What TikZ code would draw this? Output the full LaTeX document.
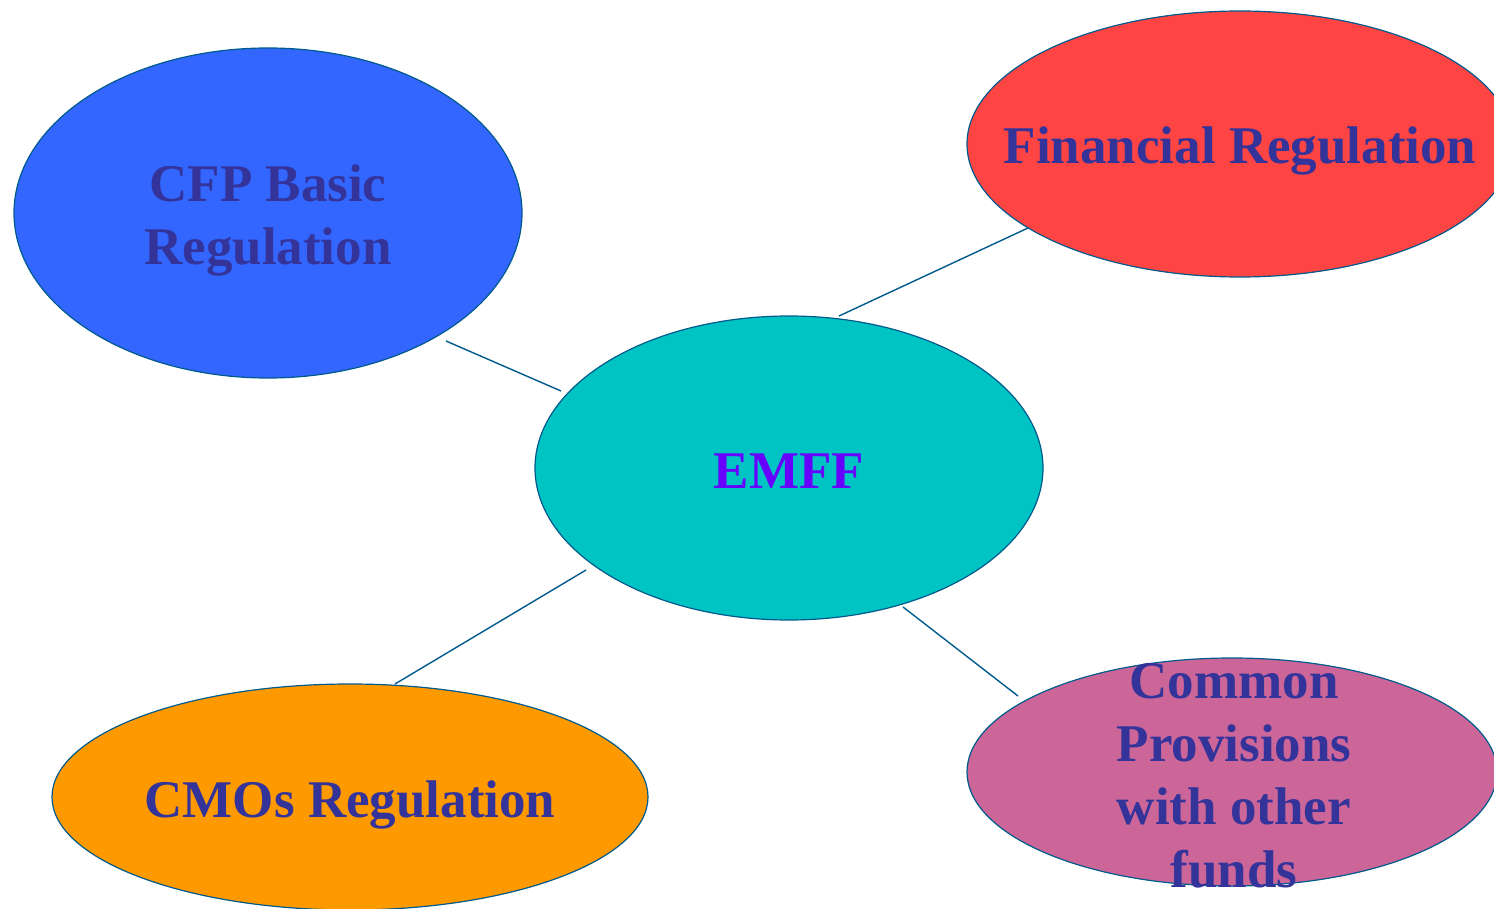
\documentclass[tikz,border=0pt]{standalone}
\usepackage{fontspec}
\setmainfont{Liberation Serif}
\usetikzlibrary{shapes.geometric}
\definecolor{edgec}{RGB}{0,90,140}
\definecolor{txtc}{RGB}{51,51,153}
\definecolor{emffc}{RGB}{102,0,255}
\definecolor{cfpc}{RGB}{51,102,255}
\definecolor{finc}{RGB}{255,68,68}
\definecolor{emfffill}{RGB}{0,196,196}
\definecolor{cmoc}{RGB}{255,153,0}
\definecolor{cpc}{RGB}{204,102,153}
\tikzset{
  blob/.style={ellipse, draw=edgec, line width=1.2pt, inner sep=0pt},
  lbl/.style={text=txtc, font=\fontsize{53}{63}\selectfont\bfseries, align=center, inner sep=0pt},
  conn/.style={draw=edgec, line width=1.4pt}
}
\begin{document}
\begin{tikzpicture}[x=1pt,y=-1pt]
\useasboundingbox (0,0) rectangle (1494,909);
\node[blob, fill=cfpc, minimum width=508pt, minimum height=330pt] (cfp) at (268,213) {};
\node[lbl] (cfpt) at (268,220) {CFP Basic\\Regulation};
\node[blob, fill=finc, minimum width=546pt, minimum height=266pt] (fin) at (1240,144) {};
\node[lbl] (fint) at (1240,151) {Financial Regulation};
\node[blob, fill=emfffill, minimum width=508pt, minimum height=304pt] (emff) at (789,468) {};
\node[lbl, text=emffc] (emfft) at (789,471) {EMFF};
\node[blob, fill=cmoc, minimum width=596pt, minimum height=226pt] (cmo) at (350,797) {};
\node[lbl] (cmot) at (350,805) {CMOs Regulation};
\node[blob, fill=cpc, minimum width=530pt, minimum height=228pt] (cp) at (1232,772) {};
\node[lbl] (cpt) at (1234,776) {Common\\Provisions\\with other\\funds};
\coordinate (a1) at (446,341); \coordinate (a2) at (561,391);
\coordinate (b1) at (839,316); \coordinate (b2) at (1028,228);
\coordinate (c1) at (586,570); \coordinate (c2) at (395,684);
\coordinate (d1) at (903,607); \coordinate (d2) at (1018,696);
\draw[conn] (a1) -- (a2);
\draw[conn] (b1) -- (b2);
\draw[conn] (c1) -- (c2);
\draw[conn] (d1) -- (d2);
\end{tikzpicture}
\end{document}
